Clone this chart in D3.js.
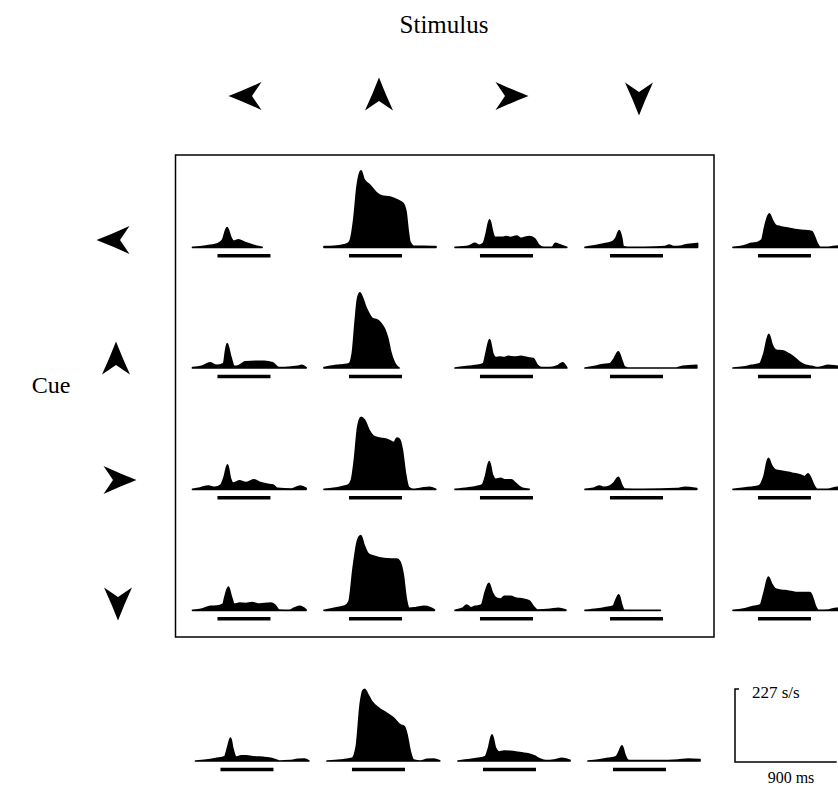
<!DOCTYPE html>
<html><head><meta charset="utf-8">
<script src="https://cdn.jsdelivr.net/npm/d3@7"></script>
<style>body{margin:0;background:#fff}svg{display:block}</style>
</head><body>
<svg id="c" width="838" height="788"></svg>
<script>
// ---------- DATA ----------
// direction order for stimulus columns and cue rows
const directions = ["left", "up", "right", "down"];
// each panel: [time from panel start (ms), firing rate (spikes/s)]
const stimulusOn = [221, 690];          // ms, bar under each histogram
const scaleRate = 227;                  // s/s
const scaleTime = 900;                  // ms

// cue = left : stimulus left, up, right, down, mean over stimuli
const cueLeft = [
  [[0,0],[118,4],[228,12],[266,23],[306,61],[339,31],[366,19],[405,23],[468,15],[560,4],[616,0]],
  [[0,2],[89,3],[177,8],[212,12],[230,19],[266,93],[292,187],[327,238],[354,211],[407,193],[460,171],[513,159],[584,156],[655,146],[699,137],[726,109],[743,56],[761,16],[797,3],[885,3],[991,2]],
  [[0,0],[122,4],[177,12],[214,6],[250,12],[277,44],[306,85],[332,49],[350,31],[417,31],[454,33],[490,30],[546,35],[582,28],[620,31],[657,33],[704,27],[742,7],[786,0],[858,0],[889,12],[933,7],[989,0]],
  [[0,0],[118,7],[192,12],[247,18],[273,28],[303,52],[325,28],[339,2],[376,0],[524,0],[708,2],[745,7],[781,2],[856,4],[892,8],[948,10],[996,12]],
  [[0,0],[89,4],[162,12],[218,15],[255,23],[281,64],[321,104],[347,85],[376,69],[420,64],[494,59],[568,54],[642,52],[697,49],[715,38],[745,12],[771,0],[844,0],[929,4],[1000,3]]
];
// cue = up
const cueUp = [
  [[0,1],[81,5],[155,16],[211,8],[273,13],[306,76],[339,34],[369,5],[413,8],[468,19],[560,21],[635,21],[708,16],[764,1],[874,3],[929,5],[966,8],[1005,1]],
  [[0,1],[56,5],[111,8],[166,10],[221,13],[250,44],[277,148],[295,211],[317,234],[343,216],[369,190],[398,169],[432,153],[468,150],[505,138],[535,122],[565,91],[590,50],[620,19],[645,5],[664,0]],
  [[0,0],[122,5],[196,8],[250,13],[277,50],[306,88],[335,44],[361,32],[398,34],[435,32],[472,36],[527,34],[582,36],[638,32],[693,29],[730,8],[767,1],[841,1],[914,8],[951,16],[989,1]],
  [[0,0],[92,5],[148,10],[221,13],[258,29],[295,50],[325,24],[350,3],[376,0],[812,0],[866,5],[989,8]],
  [[0,0],[89,3],[162,8],[236,13],[273,44],[317,105],[347,71],[383,55],[439,53],[494,44],[538,34],[587,19],[642,8],[697,5],[752,1],[844,8],[929,5],[1000,4]]
];
// cue = right
const cueRight = [
  [[0,0],[66,4],[140,10],[196,6],[250,13],[281,39],[310,76],[335,34],[361,19],[417,26],[472,21],[546,29],[601,21],[657,16],[712,13],[749,3],[878,1],[951,10],[1005,3]],
  [[0,0],[85,3],[158,8],[214,13],[243,29],[269,91],[299,195],[328,224],[361,214],[398,184],[435,166],[490,159],[546,156],[582,151],[620,145],[645,159],[667,156],[693,122],[720,50],[749,6],[786,0],[859,3],[933,6],[989,0]],
  [[0,0],[111,4],[184,8],[240,13],[269,39],[303,86],[332,44],[361,31],[405,34],[443,29],[498,29],[535,19],[572,8],[597,3],[657,0]],
  [[0,0],[73,3],[129,10],[166,6],[221,10],[258,21],[295,37],[325,13],[350,1],[516,0],[812,2],[885,6],[989,2]],
  [[0,0],[81,3],[155,6],[228,10],[273,39],[313,96],[339,76],[376,60],[450,55],[524,50],[597,44],[635,39],[664,48],[689,34],[715,13],[745,0],[837,0],[922,6],[1000,4]]
];
// cue = down
const cueDown = [
  [[0,0],[85,4],[158,12],[214,13],[269,19],[288,43],[317,72],[343,43],[369,19],[417,22],[472,21],[527,24],[582,19],[638,21],[693,22],[730,16],[767,1],[859,0],[897,6],[951,12],[1005,1]],
  [[0,0],[111,8],[184,13],[221,27],[258,131],[295,214],[325,232],[354,203],[388,177],[424,170],[480,164],[553,160],[645,159],[671,151],[701,110],[727,37],[756,6],[812,8],[885,12],[941,8],[977,1]],
  [[0,0],[66,6],[104,16],[140,8],[177,12],[233,16],[269,58],[299,84],[332,53],[361,39],[405,35],[435,43],[490,43],[546,37],[601,35],[657,29],[693,12],[730,1],[841,3],[914,6],[981,1]],
  [[0,0],[104,4],[177,8],[250,13],[273,32],[299,48],[325,16],[343,1],[361,0],[667,0]],
  [[0,0],[92,4],[184,12],[240,16],[277,58],[313,103],[339,84],[369,68],[413,63],[461,61],[516,58],[572,55],[682,55],[701,43],[730,12],[756,0],[848,1],[914,6],[1000,4]]
];
// mean over cues, for each stimulus
const cueMean = [
  [[0,0],[95,3],[183,8],[257,13],[286,44],[310,71],[330,39],[360,12],[404,16],[449,16],[507,13],[566,12],[626,10],[684,7],[743,0],[832,1],[905,5],[965,6],[1003,0]],
  [[0,0],[118,3],[221,8],[259,44],[295,179],[319,219],[334,223],[354,212],[398,184],[458,164],[531,148],[590,133],[649,112],[684,107],[708,81],[737,29],[767,3],[826,0],[885,5],[944,6],[997,1]],
  [[0,0],[106,4],[177,8],[239,13],[270,40],[301,81],[332,40],[363,28],[407,31],[460,30],[513,28],[566,25],[620,22],[673,16],[726,6],[779,1],[850,3],[920,8],[991,2]],
  [[0,0],[89,3],[177,8],[248,13],[274,28],[301,47],[327,19],[350,3],[372,1],[620,1],[797,3],[885,6],[991,4]]
];
const rows = [cueLeft, cueUp, cueRight, cueDown];

// ---------- LAYOUT ----------
const svg = d3.select("#c");
const colX = [192.5, 324, 455, 585, 733];
const rowY = [247.3, 368, 489.3, 610.3];
const bottomY = 761, bottomShift = 3;
const panelW = 113;
const x = d3.scaleLinear().domain([0, 1000]).range([0, panelW]);
const y = d3.scaleLinear().domain([0, scaleRate]).range([0, -73]);
const font = "'Liberation Serif','Times New Roman',serif";

const area = d3.area().x(d => x(d[0])).y0(0).y1(d => y(d[1])).curve(d3.curveMonotoneX);

function panel(data, px, py) {
  const g = svg.append("g").attr("transform", `translate(${px},${py})`);
  g.append("path").datum(data).attr("d", area)
    .attr("fill", "#000").attr("stroke", "#000").attr("stroke-width", 1.7).attr("stroke-linejoin", "round");
  g.append("line").attr("x1", x(stimulusOn[0])).attr("x2", x(stimulusOn[1]))
    .attr("y1", 8.5).attr("y2", 8.5).attr("stroke", "#000").attr("stroke-width", 3.4);
}

rows.forEach((row, r) => row.forEach((cell, c) => panel(cell, colX[c], rowY[r])));
cueMean.forEach((cell, c) => panel(cell, colX[c] + bottomShift, bottomY));

// frame
svg.append("rect").attr("x", 175.5).attr("y", 155).attr("width", 538.5).attr("height", 482)
  .attr("fill", "none").attr("stroke", "#000").attr("stroke-width", 1.5);

// arrows
const rot = {up: 0, right: 90, down: 180, left: -90};
const arrowPath = "M0,-16.5 Q6,-1 14,16.5 L0,7 L-14,16.5 Q-6,-1 0,-16.5Z";
const topArrowX = [245, 379, 512, 639], topArrowY = [96, 94, 96, 99];
const sideArrowX = [113, 116, 120, 118], sideArrowY = [240, 358, 480, 604];
directions.forEach((d, i) => {
  svg.append("path").attr("d", arrowPath).attr("fill", "#000")
    .attr("transform", `translate(${topArrowX[i]},${topArrowY[i]}) rotate(${rot[d]})`);
  svg.append("path").attr("d", arrowPath).attr("fill", "#000")
    .attr("transform", `translate(${sideArrowX[i]},${sideArrowY[i]}) rotate(${rot[d]})`);
});

// titles
svg.append("text").attr("x", 444).attr("y", 33).attr("text-anchor", "middle")
  .attr("font-family", font).attr("font-size", 25).text("Stimulus");
svg.append("text").attr("x", 51).attr("y", 393).attr("text-anchor", "middle")
  .attr("font-family", font).attr("font-size", 24).text("Cue");

// scale bar
const sbX = 735, sbY = 762;
const sb = svg.append("g").attr("transform", `translate(${sbX},${sbY})`);
sb.append("path")
  .attr("d", `M4,${y(scaleRate)} H0 V0 H${x(scaleTime)}`)
  .attr("fill", "none").attr("stroke", "#000").attr("stroke-width", 1.5);
sb.append("text").attr("x", 17).attr("y", y(scaleRate) + 9).attr("font-family", font)
  .attr("font-size", 17).text(scaleRate + " s/s");
sb.append("text").attr("x", 56).attr("y", 21).attr("text-anchor", "middle").attr("font-family", font)
  .attr("font-size", 16).text(scaleTime + " ms");
</script>
</body></html>
